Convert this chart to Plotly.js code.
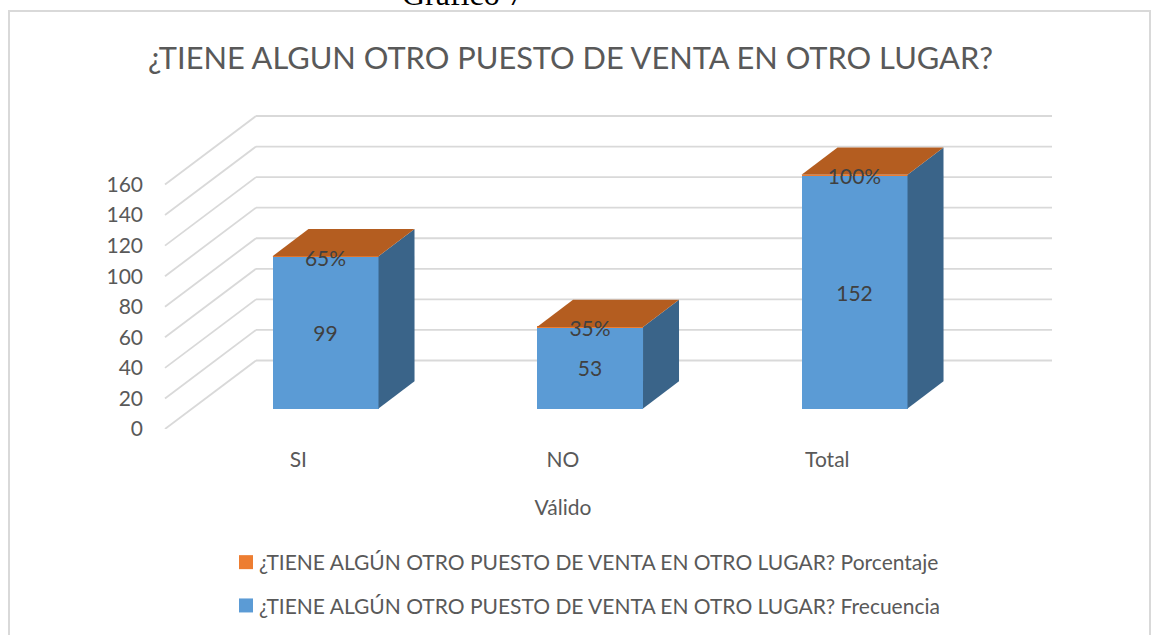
<!DOCTYPE html>
<html><head><meta charset="utf-8">
<script src="https://cdn.plot.ly/plotly-3.0.1.min.js"></script>
<style>html,body{margin:0;padding:0;background:#fff;overflow:hidden}</style>
</head><body><div id="chart" style="width:1161px;height:635px"></div>
<script>
const categories = ["SI", "NO", "Total"];
const frecuencia = [99, 53, 152];
const porcentaje = [0.65, 0.35, 1];
const porcentajeLabels = ["65%", "35%", "100%"];
const yTicks = [0, 20, 40, 60, 80, 100, 120, 140, 160];
const freqName = "¿TIENE ALGÚN OTRO PUESTO DE VENTA EN OTRO LUGAR? Frecuencia";
const pctName = "¿TIENE ALGÚN OTRO PUESTO DE VENTA EN OTRO LUGAR? Porcentaje";

// frame geometry
const W = 1161, H = 635, L = 165, R = 961, T = 100, B = 429, wallRight = 1052;
const pxPerCat = 264.5, x0px = 298.3, pxPerUnit = 1.528;
const xRange = [(L - x0px) / pxPerCat, (R - x0px) / pxPerCat];
const yRange = [0, (B - T) / pxPerUnit];
const wallDx = 91 / pxPerCat, wallDy = 68.5 / pxPerUnit;   // depth of floor
const barLift = 20.5 / pxPerUnit, barShift = barLift / wallDy * wallDx; // bar's front plane
const barWidth = 106 / pxPerCat, barDx = 36 / pxPerCat, barDy = 27.3 / pxPerUnit;
const px = v => (v - L) / (R - L), py = v => (B - v) / (B - T);

const idx = categories.map((_, i) => i);
const cx = idx.map(i => i + barShift);
const tops = idx.map(i => barLift + frecuencia[i] + porcentaje[i]);

const traces = [];
traces.push({type: "bar", x: cx, y: porcentaje, base: idx.map(i => barLift + frecuencia[i]), width: barWidth,
  name: pctName, legendgroup: "p", marker: {color: "#ED7D31"}, hoverinfo: "name+text"});
traces.push({type: "bar", x: cx, y: frecuencia, base: idx.map(() => barLift), width: barWidth,
  name: freqName, legendgroup: "f", marker: {color: "#5B9BD5"}, hoverinfo: "name+text"});
idx.forEach(i => {
  const xr = cx[i] + barWidth / 2, xl = cx[i] - barWidth / 2;
  traces.push({type: "scatter", mode: "lines", showlegend: false, hoverinfo: "skip",
    x: [xr, xr + barDx, xr + barDx, xr, xr],
    y: [barLift, barLift + barDy, tops[i] + barDy, tops[i], barLift],
    fill: "toself", fillcolor: "#3A6489", line: {width: 0}});
  traces.push({type: "scatter", mode: "lines", showlegend: false, hoverinfo: "skip",
    x: [xl, xl + barDx, xr + barDx, xr, xl],
    y: [tops[i], tops[i] + barDy, tops[i] + barDy, tops[i], tops[i]],
    fill: "toself", fillcolor: "#B45D20", line: {width: 0}});
});
const labelFont = {family: "Lato, Carlito, sans-serif", size: 21, color: "#404040"};
traces.push({type: "scatter", mode: "text", showlegend: false, hoverinfo: "skip", x: cx,
  y: idx.map(i => barLift + frecuencia[i] / 2 - 2), text: frecuencia.map(String),
  textposition: "middle center", textfont: labelFont});
traces.push({type: "scatter", mode: "text", showlegend: false, hoverinfo: "skip", x: cx,
  y: idx.map(i => tops[i] - 2.7), text: porcentajeLabels,
  textposition: "middle center", textfont: labelFont});

const shapes = [];
yTicks.forEach(t => {
  const line = {color: "#D9D9D9", width: 1.8};
  shapes.push({type: "line", layer: "below", xref: "paper", yref: "y",
    x0: 0, x1: px(256), y0: t, y1: t + wallDy, line});
  shapes.push({type: "line", layer: "below", xref: "paper", yref: "y",
    x0: px(256), x1: px(wallRight), y0: t + wallDy, y1: t + wallDy, line});
});
shapes.push({type: "rect", layer: "below", xref: "paper", yref: "paper",
  x0: px(9), x1: px(1150), y0: py(11), y1: py(700), line: {color: "#D9D9D9", width: 2}});

const layout = {
  width: W, height: H, autosize: false, showlegend: true,
  margin: {l: L, r: W - R, t: T, b: H - B, pad: 0},
  paper_bgcolor: "#fff", plot_bgcolor: "rgba(0,0,0,0)",
  font: {family: "Lato, Carlito, sans-serif", color: "#595959", size: 21},
  title: {text: "¿TIENE ALGUN OTRO PUESTO DE VENTA EN OTRO LUGAR?",
    font: {size: 30.8, color: "#595959"}, x: 570.5 / W, xanchor: "center", y: 1 - 58 / H, yanchor: "middle"},
  barmode: "overlay", bargap: 0,
  xaxis: {type: "linear", range: xRange, tickmode: "array", tickvals: idx, ticktext: categories,
    showgrid: false, zeroline: false, showline: false, ticks: "", ticklabelstandoff: 16,
    tickfont: {size: 21, color: "#595959"},
    title: {text: "Válido", standoff: 30, font: {size: 21, color: "#595959"}}},
  yaxis: {type: "linear", range: yRange, tickmode: "array", tickvals: yTicks,
    showgrid: false, zeroline: false, showline: false, ticks: "", ticklabelstandoff: 21,
    tickfont: {size: 21, color: "#595959"}},
  legend: {orientation: "v", traceorder: "grouped", xref: "paper", yref: "container",
    x: px(226), xanchor: "left", y: 1 - 542 / H, yanchor: "top", tracegroupgap: 13,
    bgcolor: "rgba(0,0,0,0)", font: {size: 21, color: "#595959"}},
  shapes,
  annotations: [{text: "Gráfico 7", xref: "paper", yref: "paper", x: px(463), y: py(14), xanchor: "center",
    yanchor: "bottom", showarrow: false, font: {family: "Liberation Serif, serif", size: 32, color: "#000"}}]
};
Plotly.newPlot("chart", traces, layout, {displayModeBar: false, responsive: false}).then(gd => {
  // tighten the gap between legend swatch and text as in the reference
  gd.querySelectorAll(".legend .legendtext").forEach(t => t.setAttribute("x", 33));
  gd.querySelectorAll(".legend .legendpoints path").forEach(p => p.setAttribute("d", "M7,7H-7V-7H7Z"));
});
</script></body></html>
